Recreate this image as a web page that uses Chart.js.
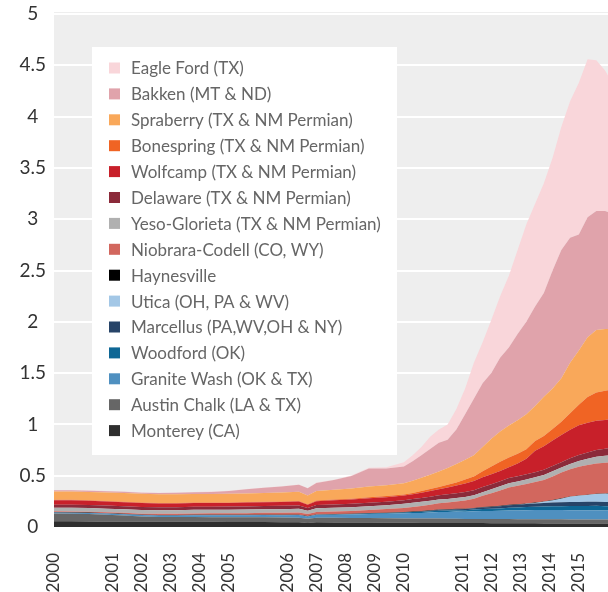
<!DOCTYPE html>
<html>
<head>
<title>Tight oil production by play</title>
<script src="https://cdn.jsdelivr.net/npm/chart.js"></script>
<style>
  html, body { margin: 0; padding: 0; background: #fff; }
  #wrap { width: 608px; height: 592px; }
</style>
<script>
// month index since Jan 2000 for every sample
const months = [0, 6, 12, 18, 24, 30, 36, 42, 48, 54, 60, 66, 72, 78, 84, 87, 90, 96, 102, 108, 114,
    120, 123, 126, 129, 132, 135, 138, 141, 144, 147, 150, 153, 156, 159, 162, 165, 168, 171, 174, 177,
    180, 183, 186, 189, 190];

const tickMonths = [0, 10, 20, 30, 40, 50, 60, 70, 80, 90, 100, 110, 120, 130, 140, 150, 160, 170, 180];
const tickLabels = ['2000', '', '2001', '2002', '2003', '2004', '2005', '', '2006', '2007', '2008', '2009',
    '2010', '', '2011', '2012', '2013', '2014', '2015'];

const playNames = ['Monterey (CA)', 'Austin Chalk (LA & TX)', 'Granite Wash (OK & TX)', 'Woodford (OK)',
    'Marcellus (PA,WV,OH & NY)', 'Utica (OH, PA & WV)', 'Haynesville', 'Niobrara-Codell (CO, WY)',
    'Yeso-Glorieta (TX & NM Permian)', 'Delaware (TX & NM Permian)', 'Wolfcamp (TX & NM Permian)',
    'Bonespring (TX & NM Permian)', 'Spraberry (TX & NM Permian)', 'Bakken (MT & ND)', 'Eagle Ford (TX)'];

// million barrels per day
const monterey = [0.056, 0.055, 0.054, 0.052, 0.052, 0.051, 0.050, 0.050, 0.050, 0.050, 0.049, 0.048, 0.048, 0.047, 0.046, 0.040,
    0.046, 0.045, 0.044, 0.043, 0.042, 0.041, 0.041, 0.040, 0.040, 0.040, 0.039, 0.039, 0.038, 0.038, 0.038, 0.037, 0.037,
    0.037, 0.036, 0.036, 0.036, 0.035, 0.035, 0.035, 0.034, 0.034, 0.034, 0.034, 0.033, 0.033];
const austinChalk = [0.075, 0.075, 0.072, 0.068, 0.060, 0.052, 0.048, 0.047, 0.047, 0.046, 0.046, 0.046, 0.046, 0.045, 0.045, 0.040,
    0.045, 0.045, 0.044, 0.044, 0.043, 0.043, 0.043, 0.042, 0.042, 0.042, 0.042, 0.041, 0.041, 0.041, 0.041, 0.040, 0.040,
    0.040, 0.040, 0.040, 0.040, 0.040, 0.040, 0.040, 0.040, 0.040, 0.040, 0.040, 0.040, 0.040];
const graniteWash = [0.010, 0.010, 0.011, 0.011, 0.012, 0.013, 0.015, 0.016, 0.018, 0.019, 0.020, 0.021, 0.022, 0.023, 0.025, 0.022,
    0.028, 0.030, 0.035, 0.040, 0.045, 0.050, 0.052, 0.055, 0.060, 0.065, 0.066, 0.070, 0.070, 0.075, 0.078, 0.080, 0.082,
    0.085, 0.086, 0.088, 0.089, 0.090, 0.090, 0.090, 0.090, 0.090, 0.090, 0.090, 0.088, 0.088];
const woodford = [0, 0, 0, 0, 0, 0, 0, 0, 0, 0, 0, 0, 0, 0, 0, 0,
    0, 0.002, 0.003, 0.005, 0.006, 0.008, 0.009, 0.010, 0.011, 0.012, 0.013, 0.014, 0.015, 0.016, 0.018, 0.020, 0.022,
    0.025, 0.028, 0.030, 0.032, 0.035, 0.037, 0.038, 0.040, 0.040, 0.041, 0.042, 0.042, 0.042];
const marcellus = [0, 0, 0, 0, 0, 0, 0, 0, 0, 0, 0, 0, 0, 0, 0, 0,
    0, 0, 0, 0, 0, 0, 0.002, 0.004, 0.006, 0.008, 0.009, 0.010, 0.011, 0.012, 0.015, 0.018, 0.021,
    0.025, 0.028, 0.030, 0.032, 0.035, 0.037, 0.038, 0.040, 0.040, 0.040, 0.040, 0.040, 0.040];
const utica = [0, 0, 0, 0, 0, 0, 0, 0, 0, 0, 0, 0, 0, 0, 0, 0,
    0, 0, 0, 0, 0, 0, 0, 0, 0, 0, 0, 0, 0, 0, 0, 0, 0,
    0, 0, 0.002, 0.005, 0.010, 0.020, 0.035, 0.050, 0.060, 0.066, 0.075, 0.080, 0.082];
const haynesville = [0.004, 0.004, 0.004, 0.004, 0.004, 0.004, 0.004, 0.004, 0.004, 0.004, 0.004, 0.004, 0.004, 0.004, 0.004, 0.004,
    0.004, 0.004, 0.004, 0.004, 0.004, 0.004, 0.004, 0.004, 0.004, 0.004, 0.004, 0.004, 0.004, 0.004, 0.004, 0.004, 0.004,
    0.004, 0.004, 0.004, 0.004, 0.004, 0.004, 0.004, 0.004, 0.004, 0.004, 0.004, 0.004, 0.004];
const niobrara = [0.008, 0.008, 0.008, 0.009, 0.010, 0.010, 0.011, 0.012, 0.013, 0.014, 0.015, 0.016, 0.018, 0.020, 0.022, 0.020,
    0.024, 0.025, 0.027, 0.030, 0.035, 0.040, 0.045, 0.050, 0.055, 0.060, 0.065, 0.070, 0.080, 0.090, 0.110, 0.130, 0.150,
    0.170, 0.180, 0.190, 0.200, 0.210, 0.230, 0.250, 0.265, 0.280, 0.290, 0.295, 0.300, 0.300];
const yeso = [0.035, 0.035, 0.035, 0.035, 0.035, 0.035, 0.035, 0.035, 0.035, 0.035, 0.035, 0.035, 0.035, 0.035, 0.035, 0.032,
    0.035, 0.036, 0.036, 0.037, 0.038, 0.040, 0.040, 0.040, 0.038, 0.036, 0.036, 0.035, 0.033, 0.033, 0.035, 0.038, 0.040,
    0.041, 0.042, 0.044, 0.046, 0.048, 0.050, 0.050, 0.052, 0.056, 0.060, 0.064, 0.067, 0.068];
const delaware = [0.030, 0.031, 0.031, 0.030, 0.030, 0.030, 0.029, 0.029, 0.030, 0.030, 0.030, 0.031, 0.031, 0.032, 0.032, 0.028,
    0.032, 0.033, 0.033, 0.034, 0.034, 0.035, 0.036, 0.038, 0.040, 0.042, 0.044, 0.046, 0.048, 0.049, 0.050, 0.050, 0.050,
    0.050, 0.050, 0.050, 0.050, 0.050, 0.051, 0.052, 0.054, 0.058, 0.062, 0.066, 0.068, 0.070];
const wolfcamp = [0.042, 0.042, 0.040, 0.040, 0.038, 0.038, 0.037, 0.036, 0.036, 0.036, 0.036, 0.037, 0.038, 0.038, 0.039, 0.032,
    0.038, 0.040, 0.042, 0.044, 0.044, 0.045, 0.048, 0.052, 0.056, 0.060, 0.068, 0.075, 0.085, 0.090, 0.095, 0.098, 0.100,
    0.105, 0.125, 0.150, 0.210, 0.230, 0.250, 0.265, 0.280, 0.290, 0.290, 0.285, 0.280, 0.280];
const bonespring = [0.005, 0.005, 0.005, 0.005, 0.005, 0.005, 0.005, 0.005, 0.005, 0.005, 0.005, 0.005, 0.005, 0.005, 0.005, 0.004,
    0.006, 0.007, 0.008, 0.009, 0.010, 0.010, 0.012, 0.015, 0.018, 0.022, 0.026, 0.030, 0.038, 0.045, 0.060, 0.075, 0.090,
    0.095, 0.095, 0.095, 0.095, 0.100, 0.110, 0.130, 0.160, 0.200, 0.250, 0.275, 0.285, 0.285];
const spraberry = [0.080, 0.080, 0.082, 0.082, 0.085, 0.085, 0.085, 0.085, 0.084, 0.083, 0.083, 0.084, 0.085, 0.087, 0.090, 0.085,
    0.092, 0.095, 0.100, 0.105, 0.105, 0.110, 0.118, 0.130, 0.140, 0.149, 0.163, 0.181, 0.192, 0.207, 0.236, 0.270, 0.294,
    0.313, 0.326, 0.341, 0.341, 0.383, 0.396, 0.423, 0.491, 0.528, 0.583, 0.610, 0.603, 0.598];
const bakken = [0.012, 0.012, 0.012, 0.012, 0.012, 0.012, 0.013, 0.014, 0.016, 0.020, 0.027, 0.040, 0.050, 0.058, 0.068, 0.070,
    0.080, 0.095, 0.120, 0.175, 0.165, 0.164, 0.190, 0.220, 0.250, 0.280, 0.275, 0.335, 0.445, 0.550, 0.620, 0.640, 0.720,
    0.760, 0.840, 0.900, 0.970, 1.010, 1.150, 1.250, 1.220, 1.130, 1.170, 1.160, 1.150, 1.140];
const eagleFord = [0.003, 0.003, 0.003, 0.003, 0.003, 0.003, 0.003, 0.003, 0.003, 0.003, 0.003, 0.003, 0.003, 0.003, 0.003, 0.003,
    0.003, 0.004, 0.005, 0.008, 0.012, 0.040, 0.060, 0.080, 0.120, 0.130, 0.150, 0.200, 0.250, 0.350, 0.400, 0.520, 0.600,
    0.700, 0.820, 0.950, 1.000, 1.070, 1.100, 1.200, 1.330, 1.480, 1.540, 1.470, 1.370, 1.330];

const playValues = [monterey, austinChalk, graniteWash, woodford, marcellus, utica, haynesville, niobrara,
    yeso, delaware, wolfcamp, bonespring, spraberry, bakken, eagleFord];
const playColors = ['#2e2e2e', '#666666', '#4f90c0', '#0e6795', '#274468', '#a3c7e6', '#000000', '#d2675e',
    '#b0b0b0', '#8b2a3a', '#c8202a', '#f06424', '#f9a85a', '#e0a3ab', '#f9d6da'];

const fontFamily = 'Lato, "Noto Sans", sans-serif';

// grey plot background
const plotBackground = {
    id: 'plotBackground',
    beforeDraw(chart) {
        const a = chart.chartArea;
        const ctx = chart.ctx;
        ctx.save();
        ctx.fillStyle = '#eeeeee';
        ctx.fillRect(a.left, a.top - 2, a.right - a.left, a.bottom - a.top + 2);
        ctx.restore();
    }
};

// white legend box inside the plot, top entry = top of the stack
const boxLegend = {
    id: 'boxLegend',
    afterDraw(chart) {
        const ctx = chart.ctx;
        const a = chart.chartArea;
        const x0 = a.left + 38, y0 = a.top + 33, w = 305, h = 408;
        ctx.save();
        ctx.fillStyle = '#ffffff';
        ctx.fillRect(x0, y0, w, h);
        ctx.font = '17px ' + fontFamily;
        ctx.textBaseline = 'middle';
        const sets = chart.data.datasets.slice().reverse();
        sets.forEach((ds, i) => {
            const cy = y0 + 21 + i * 25.9;
            ctx.fillStyle = ds.backgroundColor;
            ctx.fillRect(x0 + 17, cy - 5.5, 11, 11);
            ctx.fillStyle = '#666666';
            ctx.fillText(ds.label, x0 + 39, cy + 1);
        });
        ctx.restore();
    }
};

document.addEventListener('DOMContentLoaded', function() {
    const datasets = playNames.map((name, i) => ({
        label: name,
        data: months.map((m, j) => ({ x: m, y: playValues[i][j] })),
        backgroundColor: playColors[i],
        borderColor: playColors[i],
        borderWidth: 0,
        pointRadius: 0,
        fill: i === 0 ? 'origin' : '-1'
    }));

    new Chart(document.getElementById('chart'), {
        type: 'line',
        data: { datasets: datasets },
        options: {
            responsive: false,
            animation: false,
            layout: { padding: { top: 14, right: 0, left: 0, bottom: 0 } },
            elements: { line: { tension: 0 } },
            plugins: { legend: { display: false }, tooltip: { enabled: false } },
            scales: {
                x: {
                    type: 'linear',
                    min: 0,
                    max: 190,
                    grid: { display: false },
                    border: { display: false },
                    afterBuildTicks(scale) {
                        scale.ticks = tickMonths.map(v => ({ value: v }));
                    },
                    afterFit(scale) {
                        scale.height = 65;
                        scale.paddingLeft = 0;
                        scale.paddingRight = 0;
                    },
                    ticks: {
                        autoSkip: false,
                        minRotation: 90,
                        maxRotation: 90,
                        padding: 18,
                        color: '#333333',
                        font: { family: fontFamily, size: 17 },
                        callback: function(value) {
                            const i = tickMonths.indexOf(value);
                            return i >= 0 ? tickLabels[i] : '';
                        }
                    }
                },
                y: {
                    stacked: true,
                    min: 0,
                    max: 5,
                    grid: { color: '#ffffff', lineWidth: 2, drawTicks: false },
                    border: { display: false },
                    afterFit(scale) {
                        scale.width = 54;
                        scale.paddingTop = 0;
                        scale.paddingBottom = 0;
                    },
                    ticks: {
                        stepSize: 0.5,
                        padding: 8,
                        crossAlign: 'center',
                        color: '#333333',
                        font: { family: fontFamily, size: 19 },
                        callback: function(value) { return String(value); }
                    }
                }
            }
        },
        plugins: [plotBackground, boxLegend]
    });
});
</script>
</head>
<body>
<div id="wrap"><canvas id="chart" width="608" height="592"></canvas></div>
</body>
</html>
